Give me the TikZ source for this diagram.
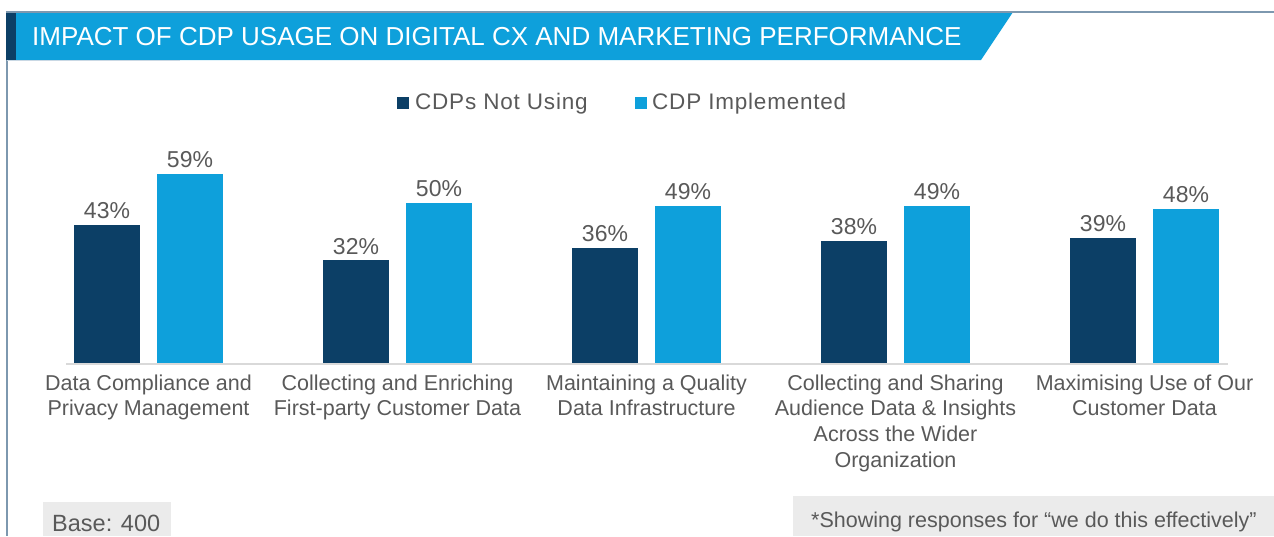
\documentclass[tikz,border=0pt]{standalone}
\usepackage{fontspec}
\setmainfont{Liberation Sans}
\definecolor{navy}{HTML}{0C3F66}
\definecolor{sky}{HTML}{0EA0DB}
\definecolor{txt}{HTML}{595959}
\definecolor{rulec}{HTML}{7D98AF}
\definecolor{faint}{HTML}{C9D8E4}
\definecolor{axisgray}{HTML}{D9D9D9}
\definecolor{boxgray}{HTML}{EBEBEB}
\begin{document}
\begin{tikzpicture}[x=1pt,y=-1pt,
  bar/.style={inner sep=0pt, outer sep=0pt, minimum width=66pt, anchor=south},
  pct/.style={font=\fontsize{23}{27}\selectfont, text=txt, anchor=base, inner sep=0pt},
  cat/.style={font=\fontsize{21.5}{25.6}\selectfont, text=txt, align=center, anchor=north, inner sep=0pt},
  legtext/.style={font=\fontsize{22.5}{27}\selectfont\addfontfeatures{LetterSpace=3.5}, text=txt, anchor=base west, inner sep=0pt},
  legsq/.style={minimum size=12pt, inner sep=0pt, outer sep=0pt},
  graybox/.style={fill=boxgray, inner sep=0pt, outer sep=0pt, anchor=north west},
  note/.style={text=txt, anchor=base west, inner sep=0pt}]
\useasboundingbox (0,0) rectangle (1274,536);
% header
\fill[sky] (16,12) -- (1013,12) -- (981,60) -- (16,60) -- cycle;
\fill[navy] (6,12) rectangle (16,60);
\draw[rulec, line width=1.5pt] (6,12) -- (1274,12);
\draw[rulec, line width=1.2pt] (7,60) -- (7,536);
\draw[faint, line width=1pt] (7,60.8) -- (180,60.8);
\node[anchor=base west, inner sep=0pt, text=white, font=\fontsize{26}{30}\selectfont] (title) at (32,45) {IMPACT OF CDP USAGE ON DIGITAL CX AND MARKETING PERFORMANCE};
% legend
\node[legsq, fill=navy] (lsq1) at (403,103) {};
\node[legtext] (lt1) at (415,109) {CDPs Not Using};
\node[legsq, fill=sky] (lsq2) at (641,103) {};
\node[legtext] (lt2) at (652,109) {CDP Implemented};
% axis
\draw[axisgray, line width=2pt] (66,363.5) -- (1228,363.5);
% bars
\foreach \i/\a/\b/\lab in {
  1/43/59/{Data Compliance and\\Privacy Management},
  2/32/50/{Collecting and Enriching\\First-party Customer Data},
  3/36/49/{Maintaining a Quality\\Data Infrastructure},
  4/38/49/{Collecting and Sharing\\Audience Data \& Insights\\Across the Wider\\Organization},
  5/39/48/{Maximising Use of Our\\Customer Data}} {
  \pgfmathsetmacro\cx{148.5+249*(\i-1)}
  \pgfmathsetmacro\ha{3.19*\a}
  \pgfmathsetmacro\hb{3.19*\b}
  \node[bar, fill=navy, minimum height=\ha pt] (d\i) at (\cx-41.5,362.5) {};
  \node[bar, fill=sky, minimum height=\hb pt] (l\i) at (\cx+41.5,362.5) {};
  \node[pct] (pd\i) at ([yshift=6.4pt]d\i.north) {\a\%};
  \node[pct] (pl\i) at ([yshift=6.4pt]l\i.north) {\b\%};
  \node[cat] (c\i) at (\cx,374.5) {\lab};
}
% footer
\node[graybox, minimum width=128pt, minimum height=34pt] (basebox) at (43,502) {};
\node[note, font=\fontsize{23.5}{28}\selectfont] (basetext) at (52,531) {Base: 400};
\node[graybox, minimum width=481pt, minimum height=40pt] (notebox) at (793,496) {};
\node[note, font=\fontsize{21.5}{25}\selectfont] (notetext) at (811,527) {*Showing responses for “we do this effectively”};
\end{tikzpicture}
\end{document}
